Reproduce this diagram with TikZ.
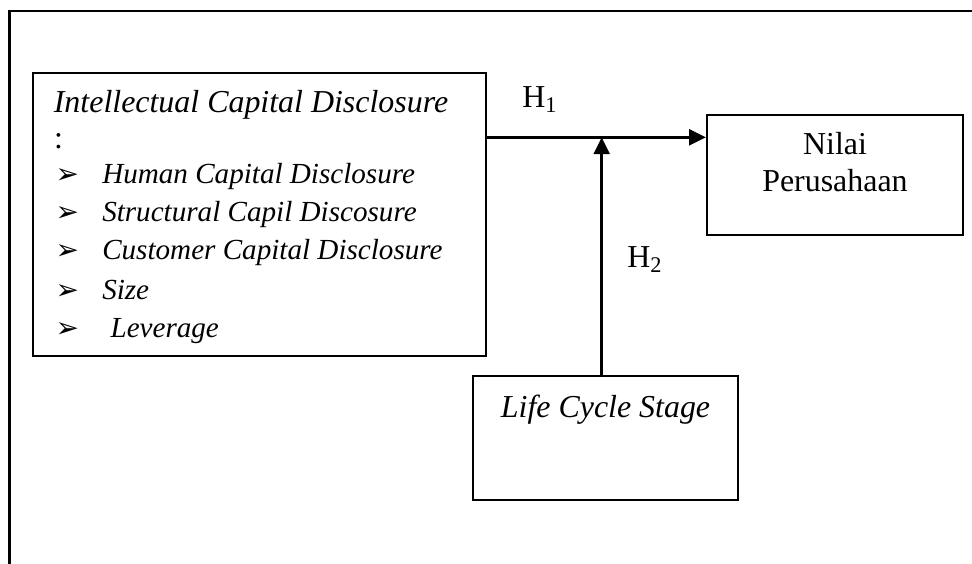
\documentclass[tikz,border=0pt]{standalone}
\usepackage{fontspec}
\setmainfont{Liberation Serif}
\newfontfamily\symfont{DejaVu Sans}
\usetikzlibrary{arrows.meta}
\begin{document}
\begin{tikzpicture}[x=0.3571pt,y=-0.3571pt,
  box/.style={draw, line width=0.75pt, inner sep=0pt},
  txt/.style={anchor=base west, inner sep=0pt, font=\fontsize{11.4}{13}\selectfont},
  itxt/.style={anchor=base west, inner sep=0pt, font=\fontsize{11.4}{13}\selectfont\itshape},
  stxt/.style={anchor=base west, inner sep=0pt, font=\fontsize{10.4}{12}\selectfont\itshape},
  ctxt/.style={anchor=base, inner sep=0pt, font=\fontsize{11.4}{13}\selectfont},
  bul/.style={anchor=base west, inner sep=0pt, font=\symfont\fontsize{10}{12}\selectfont},
  conn/.style={line width=1.1pt, -{Triangle[length=6pt,width=5.6pt]}}]
\useasboundingbox (0,0) rectangle (972,564);
% outer frame (left and top only)
\coordinate (fb) at (9.5,564);
\coordinate (fc) at (9.5,11);
\coordinate (fr) at (972,11);
\draw[line width=0.75pt] (fb) -- (fc) -- (fr);
% boxes
\node[box, minimum width=161.8pt, minimum height=101.1pt] (icd) at (259.5,214.5) {};
\node[box, minimum width=91.4pt, minimum height=42.9pt] (nilai) at (835,175) {};
\node[box, minimum width=94.6pt, minimum height=44.3pt] (life) at (605.5,438) {};
% left box text
\node[itxt] (t0) at (53.3,112.7) {Intellectual Capital Disclosure};
\node[txt] (tc) at (53.5,149) {:};
\node[bul] (b1) at (55,183.3) {➢};
\node[bul] (b2) at (55,221.7) {➢};
\node[bul] (b3) at (55,260) {➢};
\node[bul] (b4) at (55,299.3) {➢};
\node[bul] (b5) at (55,337.7) {➢};
\node[stxt] (t1) at (101.7,183.3) {Human Capital Disclosure};
\node[stxt] (t2) at (101.7,221.7) {Structural Capil Discosure};
\node[stxt] (t3) at (101.7,260) {Customer Capital Disclosure};
\node[stxt] (t4) at (101.7,299.3) {Size};
\node[stxt] (t5) at (110,337.7) {Leverage};
% right box text
\node[ctxt] (n1) at (835,155) {Nilai};
\node[ctxt] (n2) at (835,191.7) {Perusahaan};
% bottom box text
\node[ctxt, font=\fontsize{11.4}{13}\selectfont\itshape] (l1) at (605.5,418) {Life Cycle Stage};
% labels
\node[txt] (h1) at (521.7,108) {H\textsubscript{1}};
\node[txt] (h2) at (626.7,268) {H\textsubscript{2}};
% connectors
\coordinate (j) at (601.7,137.3);
\draw[conn] (icd.east |- j) -- (nilai.west |- j);
\draw[conn] (life.north -| j) -- (j);
\end{tikzpicture}
\end{document}
